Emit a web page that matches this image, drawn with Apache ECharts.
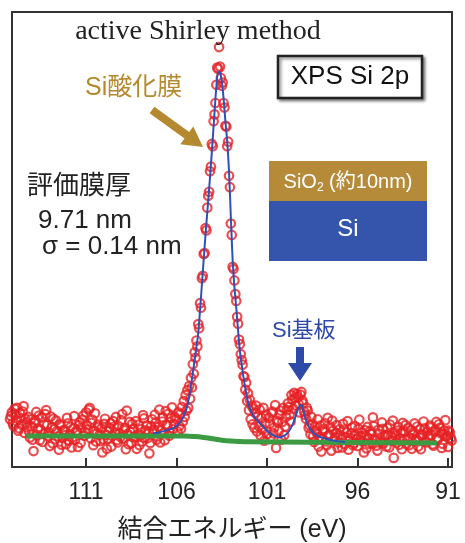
<!DOCTYPE html>
<html><head><meta charset="utf-8">
<script src="https://cdn.jsdelivr.net/npm/echarts@6/dist/echarts.min.js"></script>
<style>html,body{margin:0;padding:0;background:#fff}#c{width:465px;height:543px}</style>
</head><body><div id="c"></div>
<script>
// ---- data ----
const tickValues = [111, 106, 101, 96, 91];
const xAxisTitle = '結合エネルギー (eV)';
const titleText = 'active Shirley method';

const energy = [
115.2,115.1,115.0,114.9,114.8,114.7,114.6,114.5,114.4,114.3,
114.2,114.1,114.0,113.9,113.8,113.7,113.6,113.5,113.4,113.3,
113.2,113.1,113.0,112.9,112.8,112.7,112.6,112.5,112.4,112.3,
112.2,112.1,112.0,111.9,111.8,111.7,111.6,111.5,111.4,111.3,
111.2,111.1,111.0,110.9,110.8,110.7,110.6,110.5,110.4,110.3,
110.2,110.1,110.0,109.9,109.8,109.7,109.6,109.5,109.4,109.3,
109.2,109.1,109.0,108.9,108.8,108.7,108.6,108.5,108.4,108.3,
108.2,108.1,108.0,107.9,107.8,107.7,107.6,107.5,107.4,107.3,
107.2,107.1,107.0,106.9,106.8,106.7,106.6,106.5,106.4,106.3,
106.2,106.1,
106.00,105.95,105.90,105.85,105.80,105.75,105.70,105.65,105.60,105.55,
105.50,105.45,105.40,105.35,105.30,105.25,105.20,105.15,105.10,105.05,
105.00,104.95,104.90,104.85,104.80,104.75,104.70,104.65,104.60,104.55,
104.50,104.45,104.40,104.35,104.30,104.25,104.20,104.15,104.10,104.05,
104.00,103.95,103.90,103.85,103.80,103.75,103.70,103.65,103.60,103.55,
103.50,103.45,103.40,103.35,103.30,103.25,103.20,103.15,103.10,103.05,
103.00,102.95,102.90,102.85,102.80,102.75,102.70,102.65,102.60,102.55,
102.50,102.45,102.40,102.35,102.30,102.25,102.20,102.15,102.10,102.05,
102.00,101.95,101.90,101.85,101.80,101.75,101.70,101.65,101.60,101.55,
101.50,101.45,101.40,101.35,101.30,101.25,101.20,101.15,101.10,101.05,
101.00,
100.9,100.8,100.7,100.6,100.5,100.4,100.3,100.2,100.1,100.0,
99.9,99.8,99.7,99.6,99.5,99.4,99.3,99.2,99.1,99.0,
98.9,98.8,98.7,98.6,98.5,98.4,98.3,98.2,98.1,98.0,
97.9,97.8,97.7,97.6,97.5,97.4,97.3,97.2,97.1,97.0,
96.9,96.8,96.7,96.6,96.5,96.4,96.3,96.2,96.1,96.0,
95.9,95.8,95.7,95.6,95.5,95.4,95.3,95.2,95.1,95.0,
94.9,94.8,94.7,94.6,94.5,94.4,94.3,94.2,94.1,94.0,
93.9,93.8,93.7,93.6,93.5,93.4,93.3,93.2,93.1,93.0,
92.9,92.8,92.7,92.6,92.5,92.4,92.3,92.2,92.1,92.0,
91.9,91.8,91.7,91.6,91.5,91.4,91.3,91.2,91.1,91.0,
90.9,90.8
];
const counts = [
10.5,12.0,9.0,11.5,13.0,8.5,10.8,12.2,7.5,9.8,
11.0,6.5,8.9,3.5,10.2,7.0,11.3,8.2,5.5,9.4,
12.5,6.8,4.6,8.7,10.6,6.1,7.9,3.8,9.1,6.4,
8.0,5.0,9.6,7.2,4.3,8.5,6.0,7.8,9.2,5.3,
10.4,6.9,12.0,8.3,13.0,9.7,4.8,11.8,7.4,8.8,
5.7,3.2,9.5,7.1,6.2,8.6,4.5,10.1,7.6,5.9,
9.0,6.6,11.6,8.1,3.9,7.3,9.9,5.2,8.4,6.7,
4.0,9.3,7.0,5.6,10.7,8.0,6.3,3.0,9.0,7.7,
11.5,6.0,8.8,5.4,10.0,7.5,12.3,9.1,6.9,10.8,
8.3,11.0,
10.5,7.8,12.0,9.0,11.6,8.4,13.2,10.0,14.5,11.0,
15.8,12.4,16.9,13.0,17.8,15.0,19.6,17.5,22.6,20.5,
25.2,24.0,27.8,26.5,31.4,30.5,36.0,35.0,41.5,42.0,
46.8,47.0,52.5,52.0,57.0,59.6,60.5,65.0,66.0,71.0,
70.5,76.0,77.5,80.0,84.0,87.8,87.5,92.3,88.0,85.5,
83.8,84.5,80.0,79.0,75.0,74.8,70.5,71.5,64.0,61.5,
53.5,51.0,44.0,43.5,41.0,38.0,36.5,33.0,31.5,28.0,
27.0,24.8,23.5,22.5,20.0,19.8,17.0,18.5,14.5,16.2,
12.5,14.8,10.5,13.5,9.4,12.8,8.6,11.9,13.5,7.8,
11.2,9.0,12.6,6.9,10.8,8.2,13.0,5.8,9.6,11.5,
7.2,
10.8,6.5,12.2,8.7,4.2,9.8,11.5,6.0,13.0,8.9,
12.5,13.2,10.0,14.8,16.3,13.5,15.4,12.0,16.5,14.0,
11.5,13.0,8.6,7.2,9.5,5.5,8.0,10.5,6.6,3.4,
7.8,9.6,4.8,6.9,8.8,10.2,5.9,7.4,4.2,8.3,
6.1,9.5,5.0,7.6,3.8,6.4,8.7,5.3,7.0,4.6,
10.4,6.8,5.6,8.1,4.1,6.3,7.9,5.2,9.0,6.0,
3.6,7.3,5.5,8.4,6.6,4.5,7.1,9.3,5.8,2.0,
6.9,8.0,4.9,7.5,9.7,6.2,5.0,8.6,6.4,4.0,
7.7,5.7,8.9,6.5,3.9,7.2,8.5,5.4,6.8,9.1,
7.0,4.7,8.2,6.3,9.4,7.4,5.1,8.0,6.7,4.4,
7.6,5.8
];

// interleaved second set of points in the flat regions (denser baseline band)
const energyB = [
115.15,115.05,114.95,114.85,114.75,114.65,114.55,114.45,114.35,114.25,
114.15,114.05,113.95,113.85,113.75,113.65,113.55,113.45,113.35,113.25,
113.15,113.05,112.95,112.85,112.75,112.65,112.55,112.45,112.35,112.25,
112.15,112.05,111.95,111.85,111.75,111.65,111.55,111.45,111.35,111.25,
111.15,111.05,110.95,110.85,110.75,110.65,110.55,110.45,110.35,110.25,
110.15,110.05,109.95,109.85,109.75,109.65,109.55,109.45,109.35,109.25,
109.15,109.05,108.95,108.85,108.75,108.65,108.55,108.45,108.35,108.25,
108.15,108.05,107.95,107.85,107.75,107.65,107.55,107.45,107.35,107.25,
107.15,107.05,106.95,106.85,106.75,106.65,106.55,106.45,106.35,106.25,
106.15,
100.85,100.75,100.65,100.55,100.45,100.35,100.25,100.15,100.05,99.95,
99.85,99.75,99.65,99.55,99.45,99.35,99.25,99.15,99.05,98.95,
98.85,98.75,98.65,98.55,98.45,98.35,98.25,98.15,98.05,97.95,
97.85,97.75,97.65,97.55,97.45,97.35,97.25,97.15,97.05,96.95,
96.85,96.75,96.65,96.55,96.45,96.35,96.25,96.15,96.05,95.95,
95.85,95.75,95.65,95.55,95.45,95.35,95.25,95.15,95.05,94.95,
94.85,94.75,94.65,94.55,94.45,94.35,94.25,94.15,94.05,93.95,
93.85,93.75,93.65,93.55,93.45,93.35,93.25,93.15,93.05,92.95,
92.85,92.75,92.65,92.55,92.45,92.35,92.25,92.15,92.05,91.95,
91.85,91.75,91.65,91.55,91.45,91.35,91.25,91.15,91.05,90.95,
90.85
];
const countsB = [
11.2,9.6,12.8,10.1,8.0,11.9,9.3,13.4,10.6,8.7,
7.8,10.5,6.0,9.7,12.1,8.4,5.9,10.9,7.3,11.6,
9.2,7.6,11.1,5.2,8.3,10.2,6.7,9.4,4.9,8.1,
7.0,10.8,5.8,8.8,6.5,11.2,7.9,4.4,9.9,8.6,
11.3,7.7,9.2,12.6,6.3,10.4,8.0,5.6,9.3,7.1,
8.5,6.1,10.6,4.0,7.9,9.6,6.8,8.9,11.0,5.4,
7.4,10.3,6.2,8.6,12.4,5.0,7.7,9.5,6.5,10.1,
7.2,4.8,8.3,11.4,6.4,9.1,7.8,5.3,10.5,8.2,
9.8,6.7,12.6,8.0,10.9,5.9,9.4,11.7,7.6,13.1,
9.5,
9.5,11.8,7.4,13.6,10.2,8.0,12.4,9.9,7.0,11.0,
14.0,11.5,15.8,12.8,15.2,16.0,13.8,15.9,14.6,12.2,
10.6,12.4,9.2,11.0,6.8,8.9,7.5,4.5,9.1,6.2,
8.4,5.6,10.8,7.2,3.6,8.0,6.5,9.2,5.4,7.0,
4.3,8.2,6.6,10.1,5.8,7.4,4.8,9.0,6.2,8.4,
5.9,7.6,3.2,6.9,8.8,5.1,7.3,10.9,6.0,4.7,
8.2,6.1,9.8,5.2,7.0,8.6,4.3,6.7,10.2,7.5,
5.4,8.8,6.3,3.9,7.9,9.2,6.0,4.8,8.1,7.1,
9.6,6.2,4.5,8.3,7.0,10.0,5.6,7.8,6.4,8.7,
5.0,7.9,9.9,6.1,8.6,4.2,7.3,10.3,6.9,8.0,
6.4
];

const fitEnergy = [107.3,107.0,106.6,106.2,106.0,105.8,105.6,105.4,105.2,105.0,
104.8,104.6,104.4,104.2,104.0,103.9,103.8,103.7,103.6,103.5,
103.4,103.3,103.2,103.1,103.0,102.9,102.8,102.7,102.6,102.5,
102.4,102.3,102.2,102.1,102.0,101.8,101.6,101.4,101.2,101.0,
100.8,100.6,100.3,100.0,99.8,99.6,99.5,99.4,99.3,99.2,
99.1,99.0,98.9,98.8,98.7,98.5,98.2,97.8,97.3,96.7];
const fitValue = [7.4,7.6,8.0,8.5,9.0,9.8,11.2,13.5,18.0,23.5,
29.5,40,51,61,72,78,83.5,86.8,86.7,84.8,
81,76,71.5,65,55,45.5,39.5,35,30,25.5,
22.5,19.7,17.3,15.2,13.5,11.5,10.5,9.6,8.8,7.9,
7.3,6.9,6.5,7.0,7.8,9.2,10.2,11.4,12.6,13.4,
13.6,12.5,11.0,9.8,8.9,7.7,6.8,6.3,5.8,5.5];

const bgEnergy = [114.3,105.6,105.0,104.5,104.0,103.5,103.0,102.5,102.0,91.6];
const bgValue  = [6.8,6.8,6.7,6.5,6.2,5.9,5.7,5.6,5.55,5.25];

// ---- chart ----
const SANS = "'Liberation Sans','Noto Sans CJK JP',sans-serif";
const chart = echarts.init(document.getElementById('c'), null, {renderer:'canvas'});
const pointsA = energy.map((e, i) => [e, counts[i]]);
const pointsB = energyB.map((e, i) => [e, countsB[i]]);
const circleStyle = {color: 'rgba(255,255,255,0)', borderColor: '#e62224', borderWidth: 2.2};
const option = {
  animation: false,
  backgroundColor: '#fff',
  grid: {left: 12, right: 13, top: 12, bottom: 76, outerBoundsMode: 'none', containLabel: false,
         show: true, borderColor: '#333', borderWidth: 2, backgroundColor: 'transparent'},
  xAxis: {
    type: 'value', inverse: true, min: 90.78, max: 115.09,
    axisLine: {show: false},
    splitLine: {show: false},
    axisTick: {show: true, inside: true, length: 9, lineStyle: {color: '#333', width: 2}, customValues: tickValues},
    axisLabel: {customValues: tickValues, fontSize: 23, color: '#222', margin: 14, fontFamily: SANS},
    name: xAxisTitle, nameLocation: 'middle', nameGap: 51,
    nameTextStyle: {fontSize: 25, color: '#222', fontFamily: SANS}
  },
  yAxis: {type: 'value', min: 0, max: 100, show: false},
  series: [
    {type: 'scatter', clip: false, z: 2, data: pointsB, symbol: 'circle', symbolSize: 8.5, itemStyle: circleStyle},
    {type: 'scatter', clip: false, z: 2, data: pointsA, symbol: 'circle', symbolSize: 8.5, itemStyle: circleStyle},
    {
      type: 'line', z: 3, symbol: 'none', smooth: 0.4,
      data: bgEnergy.map((e, i) => [e, bgValue[i]]),
      lineStyle: {color: '#3c9a42', width: 5}
    },
    {
      type: 'line', z: 4, symbol: 'none', smooth: 0.3,
      data: fitEnergy.map((e, i) => [e, fitValue[i]]),
      lineStyle: {color: '#3050b8', width: 2}
    }
  ],
  graphic: [
    {type: 'text', x: 198, y: 32, z: 10, style: {text: titleText, font: "28px 'Liberation Serif'", fill: '#222', textAlign: 'center', textVerticalAlign: 'middle'}},
    {type: 'rect', z: 10, shape: {x: 278, y: 56, width: 144, height: 42},
     style: {fill: '#fff', stroke: '#222', lineWidth: 2.5, shadowBlur: 3, shadowOffsetX: 2, shadowOffsetY: 2, shadowColor: 'rgba(0,0,0,0.45)'}},
    {type: 'text', x: 350, y: 77, z: 11, style: {text: 'XPS Si 2p', font: "26px " + SANS, fill: '#111', textAlign: 'center', textVerticalAlign: 'middle'}},
    {type: 'text', x: 85, y: 88, z: 10, style: {text: 'Si酸化膜', font: "25px " + SANS, fill: '#b5892f', textAlign: 'left', textVerticalAlign: 'middle'}},
    {type: 'polygon', z: 10, shape: {points: [[149.6,113.2],[154.4,106.8],[189.2,132.1],[193.3,126.4],[203,147],[180.3,144.2],[184.5,138.5]]}, style: {fill: '#b5892f'}},
    {type: 'text', x: 27, y: 187, z: 10, style: {text: '評価膜厚', font: "26px " + SANS, fill: '#222', textAlign: 'left', textVerticalAlign: 'middle'}},
    {type: 'text', x: 38, y: 221, z: 10, style: {text: '9.71 nm', font: "26px " + SANS, fill: '#222', textAlign: 'left', textVerticalAlign: 'middle'}},
    {type: 'text', x: 42, y: 247, z: 10, style: {text: 'σ = 0.14 nm', font: "26px " + SANS, fill: '#222', textAlign: 'left', textVerticalAlign: 'middle'}},
    {type: 'rect', z: 10, shape: {x: 269, y: 161, width: 158, height: 40}, style: {fill: '#b58b3a'}},
    {type: 'rect', z: 10, shape: {x: 269, y: 201, width: 158, height: 60}, style: {fill: '#3555ad'}},
    {type: 'text', x: 348, y: 182, z: 11, style: {
      text: '{a|SiO}{b|2}{a| (約10nm)}', textAlign: 'center', textVerticalAlign: 'middle',
      rich: {a: {fontSize: 20, fontFamily: SANS, fill: '#fff', lineHeight: 24},
             b: {fontSize: 12, fontFamily: SANS, fill: '#fff', lineHeight: 14, verticalAlign: 'bottom'}}}},
    {type: 'text', x: 348, y: 229, z: 11, style: {text: 'Si', font: "24px " + SANS, fill: '#fff', textAlign: 'center', textVerticalAlign: 'middle'}},
    {type: 'text', x: 272, y: 331, z: 10, style: {text: 'Si基板', font: "22px " + SANS, fill: '#2e4aa8', textAlign: 'left', textVerticalAlign: 'middle'}},
    {type: 'polygon', z: 10, shape: {points: [[296,347],[304,347],[304,363],[312,363],[300,381],[288,363],[296,363]]}, style: {fill: '#2e4aa8'}}
  ]
};
chart.setOption(option);
</script>
</body></html>
